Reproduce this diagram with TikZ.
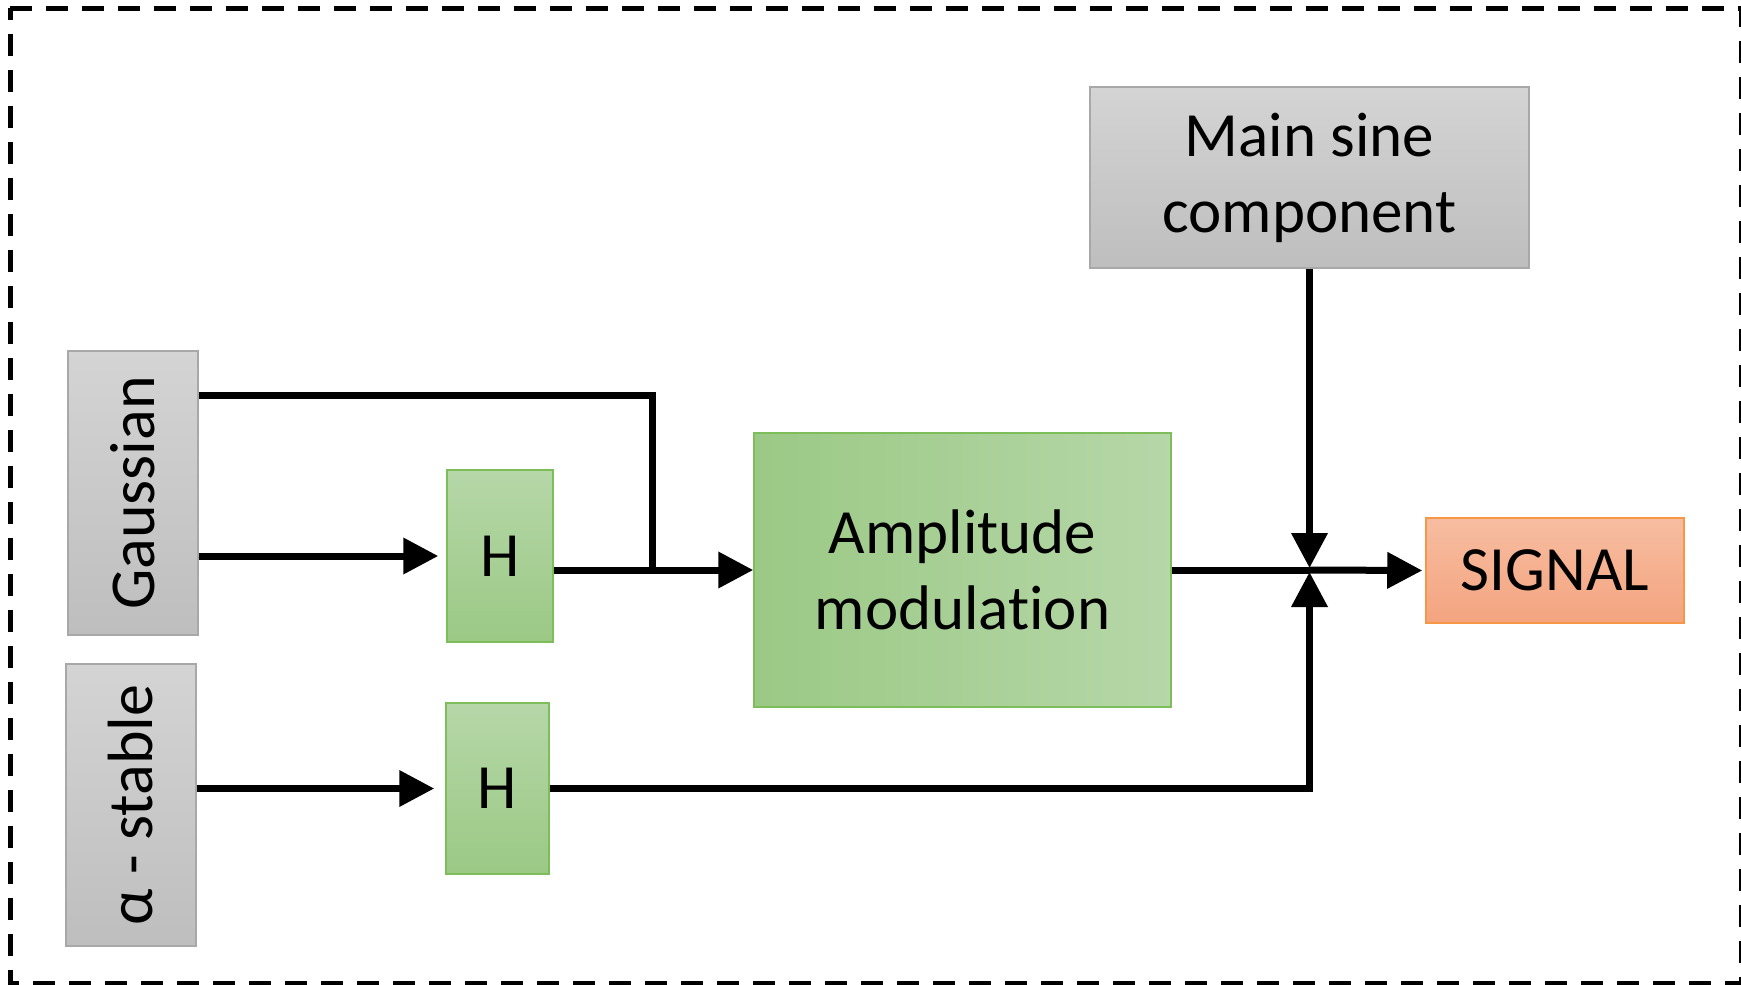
\documentclass[tikz,border=0pt]{standalone}
\usepackage{fontspec}
\setmainfont{Carlito}[Ligatures=NoCommon]
\usetikzlibrary{arrows.meta}

\definecolor{grayTop}{HTML}{D4D4D4}
\definecolor{grayBot}{HTML}{BEBEBE}
\definecolor{grayEdge}{HTML}{A8A8A8}
\definecolor{greenLight}{HTML}{B6D7A8}
\definecolor{greenDark}{HTML}{9BC985}
\definecolor{greenEdge}{HTML}{7DBE5A}
\definecolor{orangeTop}{HTML}{F7BDA1}
\definecolor{orangeBot}{HTML}{F4A47F}
\definecolor{orangeEdge}{HTML}{F79646}

\tikzset{
  box/.style={rectangle, inner sep=0pt, line width=1.5pt, align=center,
    font=\fontsize{63pt}{76pt}\selectfont},
  graybox/.style={box, draw=grayEdge, top color=grayTop, bottom color=grayBot},
  greenbox/.style={box, draw=greenEdge, top color=greenLight, bottom color=greenDark},
  sidegreen/.style={box, draw=greenEdge, left color=greenDark, right color=greenLight},
  outbox/.style={box, draw=orangeEdge, top color=orangeTop, bottom color=orangeBot},
  label/.style={inner sep=0pt, font=\fontsize{64pt}{76pt}\selectfont},
  wire/.style={line width=7pt, black},
  flow/.style={wire, -{Triangle[length=35pt,width=35pt]}},
}

\begin{document}
\begin{tikzpicture}[x=1pt, y=-1pt]
\useasboundingbox (0,0) rectangle (1741,985);

% outer dashed frame
\draw[line width=5pt, dash pattern=on 22pt off 14pt]
  (10,8) -- (1741,8) -- (1741,983) -- (10,983) -- cycle;

% sources
\node[graybox, minimum width=130pt, minimum height=284pt] (gauss) at (133,493) {};
\node[label, rotate=90] at (gauss.center) {Gaussian};
\node[graybox, minimum width=130pt, minimum height=282pt] (alpha) at (131,805) {};
\node[label, rotate=90] at (alpha.center) {α - stable};
\node[graybox, minimum width=439pt, minimum height=181pt] (sine) at (1309.5,177.5)
  {Main sine\\component};

% filters and modulation
\node[greenbox, minimum width=106pt, minimum height=172pt] (h1) at (500,556) {H};
\node[greenbox, minimum width=103pt, minimum height=171pt] (h2) at (497.5,788.5) {H};
\node[sidegreen, minimum width=417pt, minimum height=274pt] (amp) at (962.5,570)
  {Amplitude\\modulation};

% output
\node[outbox, minimum width=258pt, minimum height=105pt] (signal) at (1555,570.5) {SIGNAL};

% branch points
\coordinate (fork) at (652,395);
\coordinate (tap) at (652,570);
\coordinate (junc) at (1309.5,570);

% connectors
\draw[wire] (gauss.east |- fork) -- (fork) -- (tap);
\draw[flow, shorten >=8pt] (gauss.east |- h1) -- (h1.west);
\draw[flow] (h1.east |- amp) -- (amp.west);
\draw[flow, shorten >=11pt] (alpha.east |- h2) -- (h2.west);
\draw[flow, shorten >=2pt] (sine.south) -- (junc);
\draw[flow, shorten >=2pt] (h2.east) -| (junc);
\draw[wire] (amp.east) -- (junc);
\draw[flow, shorten >=3pt] (junc) -- (signal.west);
\end{tikzpicture}
\end{document}
